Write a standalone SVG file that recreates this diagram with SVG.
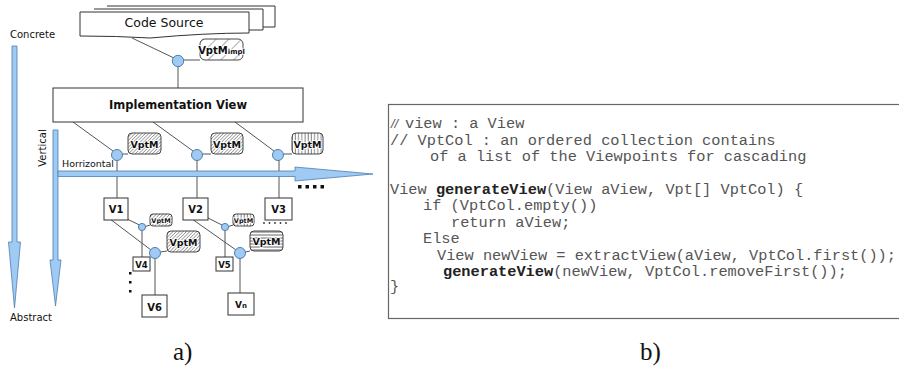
<svg xmlns="http://www.w3.org/2000/svg" width="899" height="368" viewBox="0 0 899 368">
<defs>
<pattern id="diagSparse" width="9" height="9" patternUnits="userSpaceOnUse" patternTransform="rotate(45)"><line x1="0" y1="0" x2="0" y2="9" stroke="#555" stroke-width="0.9"/></pattern>
<pattern id="diagDense" width="2.4" height="2.4" patternUnits="userSpaceOnUse" patternTransform="rotate(45)"><line x1="0" y1="0" x2="0" y2="2.4" stroke="#666" stroke-width="1.1"/></pattern>
<pattern id="vert" width="3.2" height="3.2" patternUnits="userSpaceOnUse"><line x1="1" y1="0" x2="1" y2="3.2" stroke="#666" stroke-width="0.8"/></pattern>
<pattern id="horiz" width="3" height="3" patternUnits="userSpaceOnUse"><line x1="0" y1="1" x2="3" y2="1" stroke="#555" stroke-width="0.9"/></pattern>
</defs>
<style>
.ln{stroke:#555;stroke-width:1;fill:none}
.box{fill:#fff;stroke:#333;stroke-width:1}
.pt{fill:#9fcaf3;stroke:#4d7fae;stroke-width:1}
.arr{fill:#9fcaf3;stroke:#4d7fae;stroke-width:0.8}
.hand{font-family:"DejaVu Sans","Liberation Sans",sans-serif;fill:#111}
.vb{font-family:"DejaVu Sans","Liberation Sans",sans-serif;font-weight:bold;fill:#111;text-anchor:middle}
.vp{stroke:#333;stroke-width:0.9}
.vt{font-family:"DejaVu Sans","Liberation Sans",sans-serif;font-weight:bold;fill:#111;text-anchor:middle;stroke:#fff;stroke-width:1.6;paint-order:stroke}
.code{font-family:"Liberation Mono","Courier New",monospace;font-size:15.3px;fill:#555}
.b{font-weight:bold;fill:#222}
.cap{font-family:"Liberation Serif","DejaVu Serif",serif;font-size:25px;fill:#111}
</style>

<g id="axis-concrete-abstract">
<path class="arr" d="M12,46 H17 V242 H20.5 L14.5,308 L8.5,242 H12 Z"/>
<text class="hand" x="10" y="38" font-size="10">Concrete</text>
<text class="hand" x="10" y="321" font-size="10">Abstract</text>
</g>

<g id="connectors">
<line class="ln" x1="132" y1="38" x2="174" y2="58"/>
<line class="ln" x1="183.5" y1="60" x2="200" y2="60"/>
<line class="ln" x1="178" y1="66.5" x2="178" y2="88"/>
<line class="ln" x1="73" y1="122" x2="113" y2="151"/>
<line class="ln" x1="153" y1="122" x2="193" y2="151"/>
<line class="ln" x1="235" y1="122" x2="274" y2="151"/>
<line class="ln" x1="122.5" y1="154" x2="128" y2="154"/>
<line class="ln" x1="202.5" y1="154" x2="211" y2="154"/>
<line class="ln" x1="283.5" y1="154" x2="292" y2="154"/>
<line class="ln" x1="117" y1="160" x2="117" y2="198"/>
<line class="ln" x1="197" y1="160" x2="197" y2="198"/>
<line class="ln" x1="279" y1="160" x2="279" y2="198"/>
<line class="ln" x1="127" y1="219" x2="139.5" y2="225"/>
<line class="ln" x1="145.5" y1="226.5" x2="150" y2="225"/>
<line class="ln" x1="142" y1="230.5" x2="142" y2="257"/>
<line class="ln" x1="110" y1="219" x2="151" y2="250"/>
<line class="ln" x1="160.5" y1="252" x2="167" y2="251"/>
<line class="ln" x1="155" y1="258.5" x2="155" y2="295"/>
<line class="ln" x1="206" y1="217" x2="222" y2="225"/>
<line class="ln" x1="228.5" y1="226.5" x2="233" y2="225"/>
<line class="ln" x1="225" y1="230.5" x2="225" y2="257"/>
<line class="ln" x1="192" y1="219" x2="236" y2="250"/>
<line class="ln" x1="245.5" y1="252" x2="250" y2="251"/>
<line class="ln" x1="240" y1="258.5" x2="240" y2="293"/>
</g>

<g id="axis-vertical-horizontal">
<path class="arr" d="M53,130 H58 V260 H61 L55.5,306 L50,260 H53 Z"/>
<text class="hand" font-size="10" transform="translate(46,148) rotate(-90)" text-anchor="middle">Vertical</text>
<path class="arr" d="M58,171 H295 V167 L373,174 L295,181 V176.5 H58 Z"/>
<text class="hand" x="62" y="167" font-size="9.5" textLength="52">Horrizontal</text>
<g fill="#111"><rect x="298" y="185" width="3.5" height="3.5"/><rect x="305.5" y="185" width="3.5" height="3.5"/><rect x="313" y="185" width="3.5" height="3.5"/><rect x="320.5" y="185" width="3.5" height="3.5"/></g>
</g>

<g id="code-source">
<path class="box" d="M107,6 H275 V27 H263"/>
<path class="box" d="M94,9 H263 V30 H249"/>
<path class="box" d="M80,12 H249 V33 Q205,33 150,38 Q118,36 80,36 Z"/>
<text class="hand" x="164" y="27" font-size="12.5" text-anchor="middle">Code Source</text>
</g>

<g id="p0"><circle class="pt" cx="178" cy="61" r="5.7"/></g>
<g id="vptm-impl">
<rect x="200" y="39" width="43" height="21" rx="5" fill="url(#diagSparse)" class="vp"/>
<text class="vt" x="221.5" y="54" font-size="10">VptM<tspan font-size="7">impl</tspan></text>
</g>

<g id="implementation-view">
<rect class="box" x="53" y="88" width="250" height="34"/>
<text class="vb" x="178" y="109" font-size="11.5">Implementation View</text>
</g>

<g id="p1"><circle class="pt" cx="117" cy="155" r="5.5"/></g>
<g id="p2"><circle class="pt" cx="197" cy="155" r="5.5"/></g>
<g id="p3"><circle class="pt" cx="278" cy="155" r="5.5"/></g>

<g id="vptm1"><rect x="128" y="133" width="33" height="21" rx="4" fill="url(#diagDense)" class="vp"/><text class="vt" x="144.5" y="147.5" font-size="9.5">VptM</text></g>
<g id="vptm2"><rect x="211" y="133" width="32" height="21" rx="4" fill="url(#diagDense)" class="vp"/><text class="vt" x="227" y="147.5" font-size="9.5">VptM</text></g>
<g id="vptm3"><rect x="292" y="133" width="31" height="21" rx="4" fill="url(#vert)" class="vp"/><text class="vt" x="307.5" y="147.5" font-size="9.5">VptM</text></g>

<g id="v1"><rect class="box" x="104" y="198" width="24" height="22"/><text class="vb" x="116" y="213" font-size="10">V1</text></g>
<g id="v2"><rect class="box" x="183" y="198" width="25" height="22"/><text class="vb" x="195.5" y="213" font-size="10">V2</text></g>
<g id="v3"><rect class="box" x="265" y="198" width="27" height="22"/><text class="vb" x="278.5" y="213" font-size="10">V3</text></g>
<g id="more-v3" fill="#333"><circle cx="264" cy="223" r="0.9"/><circle cx="269.5" cy="223" r="0.9"/><circle cx="275" cy="223" r="0.9"/><circle cx="280.5" cy="223" r="0.9"/><circle cx="286" cy="223" r="0.9"/></g>

<g id="p11"><circle class="pt" cx="142" cy="227" r="3.6"/></g>
<g id="vptm11"><rect x="150" y="214" width="22" height="12" rx="3" fill="url(#diagDense)" class="vp"/><text class="vt" x="161" y="223" font-size="6.5">VptM</text></g>
<g id="p12"><circle class="pt" cx="155" cy="253" r="5.5"/></g>
<g id="vptm12"><rect x="167" y="231" width="33" height="21" rx="4" fill="url(#diagDense)" class="vp"/><text class="vt" x="183.5" y="245.5" font-size="9.5">VptM</text></g>
<g id="v4"><rect class="box" x="133" y="257" width="17" height="14"/><text class="vb" x="141.5" y="267.5" font-size="8.5">V4</text></g>
<g id="v6"><rect class="box" x="142" y="295" width="25" height="22"/><text class="vb" x="154.5" y="310.5" font-size="10">V6</text></g>
<g id="more-v4" fill="#111"><rect x="129" y="272" width="2.5" height="2.5"/><rect x="129" y="281" width="2.5" height="2.5"/><rect x="129" y="290" width="2.5" height="2.5"/></g>

<g id="p21"><circle class="pt" cx="225" cy="227" r="3.6"/></g>
<g id="vptm21"><rect x="233" y="214" width="21" height="12" rx="3" fill="url(#vert)" class="vp"/><text class="vt" x="243.5" y="223" font-size="6.5">VptM</text></g>
<g id="p22"><circle class="pt" cx="240" cy="253" r="5.5"/></g>
<g id="vptm22"><rect x="250" y="231" width="33" height="20" rx="4" fill="url(#horiz)" class="vp"/><text class="vt" x="266.5" y="245" font-size="9.5">VptM</text></g>
<g id="v5"><rect class="box" x="216" y="257" width="17" height="14"/><text class="vb" x="224.5" y="267.5" font-size="8.5">V5</text></g>
<g id="vn"><rect class="box" x="228" y="293" width="26" height="22"/><text class="vb" x="241" y="307.5" font-size="9">V<tspan font-size="7">n</tspan></text></g>

<text class="cap" x="173" y="360">a)</text>

<g id="code-panel">
<rect x="388.5" y="104.5" width="520" height="214" fill="#fff" stroke="#666" stroke-width="1.2"/>
<text class="code" y="128"><tspan x="391" font-family="Liberation Sans,sans-serif" font-style="italic" font-size="13">//</tspan><tspan x="405">view : a View</tspan></text>
<text class="code" x="390" y="144.5">// VptCol : an ordered collection contains</text>
<text class="code" x="430" y="161">of a list of the Viewpoints for cascading</text>
<text class="code" x="390" y="193.5">View <tspan class="b">generateView</tspan>(View aView, Vpt[] VptCol) {</text>
<text class="code" x="423" y="210">if (VptCol.empty())</text>
<text class="code" x="451" y="226.5">return aView;</text>
<text class="code" x="423" y="243">Else</text>
<text class="code" x="437" y="259.5">View newView = extractView(aView, VptCol.first());</text>
<text class="code" x="443" y="276"><tspan class="b">generateView</tspan>(newView, VptCol.removeFirst());</text>
<text class="code" x="390" y="291">}</text>
</g>

<text class="cap" x="640" y="360">b)</text>
</svg>
